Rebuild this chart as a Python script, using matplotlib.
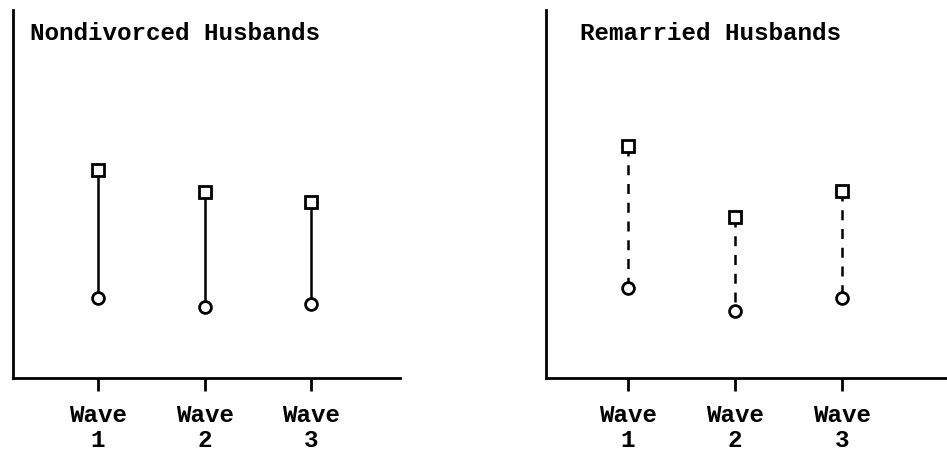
import matplotlib
matplotlib.use("Agg")
import matplotlib.pyplot as plt

# data (arbitrary units, axis bottom = 0)
waves = [1, 2, 3]
wave_labels = ["Wave\n1", "Wave\n2", "Wave\n3"]
nondiv_square = [56.5, 50.5, 47.8]
nondiv_circle = [21.7, 19.3, 20.1]
remar_square = [63.0, 43.8, 50.8]
remar_circle = [24.5, 18.2, 21.7]

FONT = "Liberation Mono"


def panel(ax, title, squares, circles, linestyle, xlim, title_x):
    for x, top, bot in zip(waves, squares, circles):
        ax.plot([x, x], [top, bot], color="black", lw=1.8, ls=linestyle, zorder=1)
    ax.plot(waves, circles, "o", ls="none", ms=8.5, mfc="white", mec="black", mew=2, zorder=2)
    ax.plot(waves, squares, "s", ls="none", ms=9, mfc="white", mec="black", mew=2, zorder=3)

    ax.set_xlim(*xlim)
    ax.set_ylim(0, 100)
    ax.set_xticks(waves)
    ax.set_xticklabels(wave_labels, family=FONT, fontsize=17.5, fontweight="bold", linespacing=1.1)
    ax.set_yticks([])
    ax.tick_params(axis="x", direction="out", length=9, width=2, pad=10)
    for side in ["top", "right"]:
        ax.spines[side].set_visible(False)
    for side in ["left", "bottom"]:
        ax.spines[side].set_linewidth(2)
    ax.text(title_x, 0.935, title, transform=ax.transAxes,
            family=FONT, fontsize=17.5, fontweight="bold", va="center", ha="left")


fig = plt.figure(figsize=(9.47, 4.55), dpi=100)
ax1 = fig.add_axes([0.0137, 0.169, 0.409, 0.809])
ax2 = fig.add_axes([0.5766, 0.169, 0.4234, 0.809])

panel(ax1, "Nondivorced Husbands", nondiv_square, nondiv_circle, "-", (0.202, 3.836), 0.045)
panel(ax2, "Remarried Husbands", remar_square, remar_circle, (0, (4, 3.5)), (0.234, 3.98), 0.085)

fig.savefig("out.png", dpi=100)
